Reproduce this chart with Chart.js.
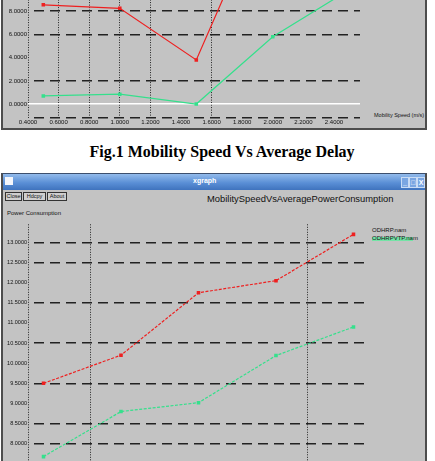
<!DOCTYPE html>
<html>
<head>
<meta charset="utf-8">
<script src="https://cdn.jsdelivr.net/npm/chart.js@4.4.1/dist/chart.umd.min.js"></script>
<style>
  html, body { margin: 0; padding: 0; background: #fff; }
  body { position: relative; width: 435px; height: 461px; overflow: hidden; font-family: "Liberation Sans", Arial, sans-serif; color: #111; }
  .win { position: absolute; box-sizing: border-box; background: #c3c3c3; border: 2px solid #4d4d4d; }
  #win1 { left: 1px; top: -10px; width: 426px; height: 140px; }
  #win2 { left: 1px; top: 173px; width: 426px; height: 330px; border-width: 1px 2px 2px 2px; border-color: #3c4f6e #4d4d4d #4d4d4d #4d4d4d; }
  .bar { position: absolute; left: 0; top: 0; right: 0; height: 16px; background: linear-gradient(#93bbec, #5a8fd6 55%, #3f73be); }
  .bar .icon { position: absolute; left: 2px; top: 3px; width: 8px; height: 8px; background: #f4f6fb; }
  .bar .name { position: absolute; left: 190px; top: 3px; font: bold 7px "Liberation Sans", sans-serif; color: #fff; }
  .bar .bt { position: absolute; top: 3px; width: 6px; height: 9px; background: #7aa6e2; border: 1px solid #c9dcf5; color: #fff; font: bold 7px "Liberation Sans", sans-serif; line-height: 9px; text-align: center; }
  .btn { position: absolute; top: 18px; height: 9px; box-sizing: border-box; border: 1px solid #333; background: #cfcfcf; font-size: 5.5px; line-height: 7px; text-align: center; }
  .txt { position: absolute; white-space: nowrap; }
  .wrap { position: absolute; }
  #w1 { left: 2px; top: -5px; width: 423px; height: 135px; }
  #w2 { left: 2px; top: 220px; width: 424px; height: 276px; }
</style>
</head>
<body>

<div class="win" id="win1"></div>
<div class="txt" style="left:374px; top:112px; font-size:5.5px;">Mobility Speed (m/s)</div>

<div class="txt" style="left:0; width:444px; top:143px; text-align:center; font: bold 16px 'Liberation Serif', 'Times New Roman', serif; color:#000;">Fig.1 Mobility Speed Vs Average Delay</div>

<div class="win" id="win2">
  <div class="bar">
    <div class="icon"></div>
    <div class="name">xgraph</div>
    <div class="bt" style="left:398px;">_</div>
    <div class="bt" style="left:406px;">□</div>
    <div class="bt" style="left:414px;">X</div>
  </div>
  <div class="btn" style="left:2px; width:17px;">Close</div>
  <div class="btn" style="left:20px; width:23px;">Hdcpy</div>
  <div class="btn" style="left:44px; width:20px;">About</div>
  <div class="txt" style="left:204px; top:19px; font-size:9.4px;">MobilitySpeedVsAveragePowerConsumption</div>
  <div class="txt" style="left:4px; top:36px; font-size:6px;">Power Consumption</div>
  <div class="txt" style="left:369px; top:53px; font-size:6px;">ODHRP.nam</div>
  <div style="position:absolute; left:369px; top:63px; width:41px; height:4px; background:#74e3a6;"></div>
  <div class="txt" style="left:369px; top:61px; font-size:6px;">ODHRPVTP.nam</div>
</div>

<div class="wrap" id="w1"><canvas id="delayChart"></canvas></div>
<div class="wrap" id="w2"><canvas id="powerChart"></canvas></div>

<script>
// mobility speed (m/s) of each simulation run
const speeds = [0.5, 1.0, 1.5, 2.0, 2.5];
// Fig.1 average delay (only the lower part is visible)
const delayRed = [8.55, 8.25, 3.8, 18.9, null];
const delayGreen = [0.7, 0.85, 0.0, 5.8, 9.85];
// Fig.2 average power consumption
const powerRed = [9.5, 10.2, 11.75, 12.05, 13.2];
const powerGreen = [7.68, 8.8, 9.02, 10.19, 10.9];
const seriesNames = ["ODHRP.nam", "ODHRPVTP.nam"];
// tick labels
const speedTicks = [0.4, 0.6, 0.8, 1.0, 1.2, 1.4, 1.6, 1.8, 2.0, 2.2, 2.4];
const delayTicks = [0, 2, 4, 6, 8];
const powerTicks = [7.0, 7.5, 8.0, 8.5, 9.0, 9.5, 10.0, 10.5, 11.0, 11.5, 12.0, 12.5, 13.0];

const RED = "#ee2020";
const GREEN = "#35e08c";

function toPoints(ys) {
    return speeds.map((x, i) => ({ x: x, y: ys[i] }));
}

function series(label, ys, color, dash) {
    return {
        label: label,
        data: toPoints(ys),
        borderColor: color,
        backgroundColor: color,
        borderWidth: 1.2,
        borderDash: dash,
        pointStyle: "rect",
        pointRadius: 2.5,
        pointBorderWidth: 0,
        tension: 0,
    };
}

// xgraph-like chart: dotted verticals, dashed horizontals
function makeChart(id, datasets, o) {
    const yTicks = o.yTicks;
    return new Chart(document.getElementById(id), {
        type: "line",
        data: { datasets: datasets },
        options: {
            responsive: true,
            maintainAspectRatio: false,
            animation: false,
            devicePixelRatio: 1,
            layout: { padding: { left: 0, right: o.padRight, top: 0, bottom: 0 } },
            plugins: { legend: { display: false }, tooltip: { enabled: false } },
            scales: {
                x: {
                    type: "linear",
                    min: 0.4,
                    max: o.xMax,
                    afterBuildTicks: (s) => { s.ticks = speedTicks.map((v) => ({ value: v })); },
                    afterFit: (s) => { s.height = 12; },
                    ticks: {
                        padding: 1,
                        color: "#111",
                        font: { family: "Liberation Sans", size: 6 },
                        callback: (v) => Number(v).toFixed(4),
                    },
                    grid: {
                        drawTicks: false,
                        lineWidth: 1,
                        color: (ctx) => ctx.tick && o.xGrid.includes(ctx.tick.value) ? "#222" : "rgba(0,0,0,0)",
                    },
                    border: { display: false, dash: [1, 1.5] },
                },
                y: {
                    type: "linear",
                    min: o.yMin,
                    max: o.yMax,
                    afterBuildTicks: (s) => { s.ticks = yTicks.map((v) => ({ value: v })); },
                    afterFit: (s) => { s.width = 26; },
                    ticks: {
                        padding: 1,
                        color: "#111",
                        font: { family: "Liberation Sans", size: o.yFont },
                        callback: (v) => o.noLabel.includes(v) ? "" : Number(v).toFixed(4),
                    },
                    grid: {
                        drawTicks: false,
                        lineWidth: (ctx) => ctx.tick && ctx.tick.value === 0 ? 1.4 : 1.6,
                        color: (ctx) => {
                            if (!ctx.tick || o.yHide.includes(ctx.tick.value)) return "rgba(0,0,0,0)";
                            return ctx.tick.value === o.zeroLine ? "#ffffff" : "#222";
                        },
                    },
                    border: {
                        display: false,
                        dash: (ctx) => ctx.tick && ctx.tick.value === o.zeroLine ? [] : [10, 6],
                        dashOffset: -6,
                    },
                },
            },
        },
    });
}

makeChart("delayChart", [
    series(seriesNames[0], delayRed, RED, []),
    series(seriesNames[1], delayGreen, GREEN, []),
], {
    xMax: 2.57, yMin: -1.2, yMax: 9.0, padRight: 65, yFont: 6,
    yTicks: [-1.2].concat(delayTicks), noLabel: [-1.2],
    xGrid: [0.4, 0.6, 0.8, 1.0, 1.2, 1.6],
    yHide: [4], zeroLine: 0,
});

makeChart("powerChart", [
    series(seriesNames[0], powerRed, RED, [3, 1.5]),
    series(seriesNames[1], powerGreen, GREEN, [3, 1.5]),
], {
    xMax: 2.6, yMin: 7.0, yMax: 13.45, padRight: 57, yFont: 5.5,
    yTicks: powerTicks, noLabel: [],
    xGrid: [0.4, 0.8, 2.2],
    yHide: [12, 11, 10, 9], zeroLine: null,
});
</script>
</body>
</html>
